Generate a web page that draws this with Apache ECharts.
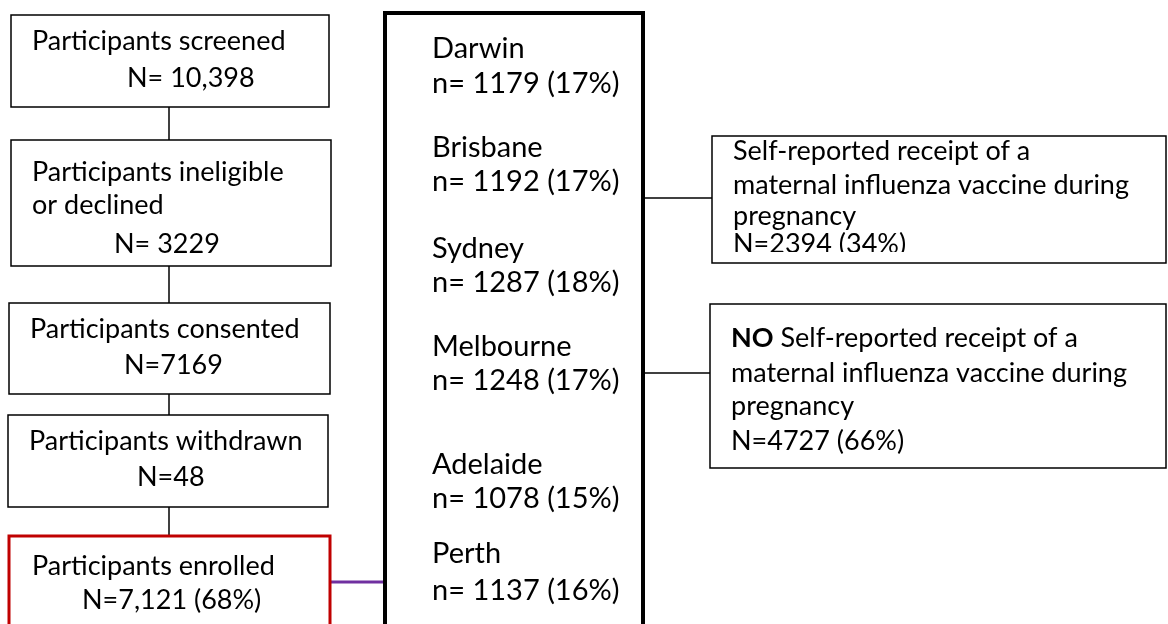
<!DOCTYPE html>
<html>
<head>
<meta charset="utf-8">
<title>Flow of participants</title>
<script src="https://cdn.jsdelivr.net/npm/echarts@6/dist/echarts.min.js"></script>
<style>
    html, body { margin: 0; background: #fff; }
    #main { width: 1168px; height: 624px; }
</style>
</head>
<body>
<div id="main"></div>
<script>
// data
var stepNames = ['Participants screened', 'Participants ineligible\nor declined', 'Participants consented', 'Participants withdrawn', 'Participants enrolled'];
var stepCounts = ['N= 10,398', 'N= 3229', 'N=7169', 'N=48', 'N=7,121 (68%)'];
var cities = ['Darwin', 'Brisbane', 'Sydney', 'Melbourne', 'Adelaide', 'Perth'];
var cityCounts = [1179, 1192, 1287, 1248, 1078, 1137];
var cityPct = [17, 17, 18, 17, 15, 16];
var groupPrefix = ['', 'NO'];
var groupText = ['Self-reported receipt of a', 'maternal influenza vaccine during', 'pregnancy'];
var groupCounts = [2394, 4727];
var groupPct = [34, 66];

// layout (px)
var FONT = 'Lato, "Open Sans", sans-serif';
var stepBoxes = [[11, 15, 318, 92], [11, 140, 320, 126], [9, 303, 321, 91], [8, 415, 320, 92], [9, 536, 321, 110]];
// per box: x and baseline of each text line
var stepLines = [
    [[32, 52], [127, 89]],
    [[32, 183], [32, 216], [114, 255]],
    [[30, 340], [124, 376]],
    [[29, 452], [137, 488]],
    [[32, 577], [82, 611]]
];
var cityBaselines = [[60, 95], [159, 193], [260, 294], [358, 392], [476, 510], [565, 602]];
var groupBoxes = [[712, 136, 454, 127], [710, 304, 456, 164]];
var groupBaselines = [[162, 196, 227, 255], [349, 384, 417, 452]];
var groupLinkY = [198, 373];

function txt(x, base, text, size) {
    return {
        type: 'text',
        z: 10,
        style: {
            x: x,
            y: base - size * 0.387,
            text: text,
            font: size + 'px ' + FONT,
            fill: '#000',
            verticalAlign: 'middle',
            align: 'left'
        }
    };
}
function box(b, color, w) {
    return {
        type: 'rect',
        z: 5,
        shape: { x: b[0], y: b[1], width: b[2], height: b[3] },
        style: { fill: '#fff', stroke: color || '#000', lineWidth: w || 1.5 }
    };
}
function line(x1, y1, x2, y2, color, w) {
    return {
        type: 'line',
        z: 4,
        shape: { x1: x1, y1: y1, x2: x2, y2: y2 },
        style: { stroke: color || '#000', lineWidth: w || 1.5 }
    };
}

var els = [];

// left column
stepNames.forEach(function (name, i) {
    var b = stepBoxes[i];
    var last = i === stepNames.length - 1;
    els.push(box(b, last ? '#c00000' : '#000', last ? 3 : 1.5));
    var lines = name.split('\n').concat([stepCounts[i]]);
    lines.forEach(function (t, j) {
        els.push(txt(stepLines[i][j][0], stepLines[i][j][1], t, 27));
    });
    if (i > 0) {
        var prev = stepBoxes[i - 1];
        els.push(line(169, prev[1] + prev[3], 169, b[1]));
    }
});

// enrolled -> sites
els.push(line(330, 582, 385, 582, '#7030a0', 3));

// sites box
els.push(box([385, 13, 258, 700], '#000', 4));
cities.forEach(function (c, i) {
    els.push(txt(432, cityBaselines[i][0], c, 29));
    els.push(txt(432, cityBaselines[i][1], 'n= ' + cityCounts[i] + ' (' + cityPct[i] + '%)', 29));
});

// vaccine groups
groupCounts.forEach(function (n, i) {
    var b = groupBoxes[i];
    els.push(line(645, groupLinkY[i], b[0], groupLinkY[i]));
    els.push(box(b));
    var base = groupBaselines[i];
    var tx = b[0] + 21;
    if (groupPrefix[i]) {
        els.push({
            type: 'text',
            z: 10,
            style: {
                x: tx,
                y: base[0] - 27 * 0.387,
                text: '{b|' + groupPrefix[i] + '} ' + groupText[0],
                font: '27px ' + FONT,
                fill: '#000',
                verticalAlign: 'middle',
                rich: { b: { fontWeight: 'bold', fontSize: 27, fontFamily: 'Lato' } }
            }
        });
    } else {
        els.push(txt(tx, base[0], groupText[0], 27));
    }
    els.push(txt(tx, base[1], groupText[1], 27));
    els.push(txt(tx, base[2], groupText[2], 27));
    els.push(txt(tx, base[3], 'N=' + n + ' (' + groupPct[i] + '%)', 27));
});
// first group box text is cut off at its bottom margin
els.push({
    type: 'rect',
    z: 11,
    shape: { x: 713, y: 252, width: 452, height: 10 },
    style: { fill: '#fff' }
});

var chart = echarts.init(document.getElementById('main'));
chart.setOption({
    backgroundColor: '#fff',
    animation: false,
    graphic: { elements: els }
});
</script>
</body>
</html>
